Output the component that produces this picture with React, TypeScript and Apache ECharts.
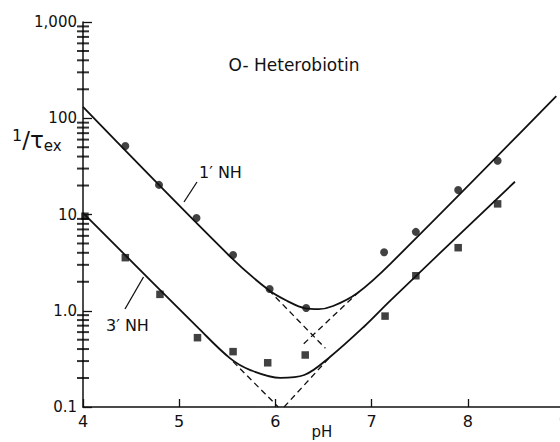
import React, { useEffect, useRef } from "react";
import * as echarts from "echarts";

// Axis ticks
const xTicks = [4, 5, 6, 7, 8, 9];
const yTickLabels = ["0.1", "1.0", "10", "100", "1,000"];
const minorMultipliers = [2, 3, 4, 5, 6, 7, 8, 9];
const minorDecades = [0.1, 1, 10, 100];

// Measured points: 1' NH (circles)
const pH1 = [4.44, 4.79, 5.18, 5.56, 5.94, 6.32, 7.13, 7.46, 7.9, 8.31];
const nh1 = [51.5, 20.3, 9.2, 3.8, 1.68, 1.07, 4.05, 6.6, 18, 36.2];
// Measured points: 3' NH (squares)
const pH3 = [4.02, 4.44, 4.8, 5.19, 5.56, 5.92, 6.31, 7.14, 7.46, 7.9, 8.31];
const nh3 = [9.6, 3.56, 1.48, 0.525, 0.376, 0.288, 0.347, 0.88, 2.31, 4.52, 12.9];

// Fitted curves
const fit1pH = [4.0, 5.53, 5.93, 6.125, 6.31, 6.45, 6.6, 6.85, 7.2, 8.92];
const fit1 = [131, 3.65, 1.64, 1.26, 1.06, 1.04, 1.12, 1.52, 3.11, 170];
const fit3pH = [4.0, 5.2, 5.53, 5.74, 6.05, 6.3, 6.57, 6.92, 7.2, 8.49];
const fit3 = [10.4, 0.66, 0.32, 0.242, 0.201, 0.215, 0.333, 0.682, 1.29, 21.9];

// Dashed asymptotes (pH, value) pairs
const asym1Left = [[5.93, 1.64], [6.52, 0.407]];
const asym1Right = [[6.87, 1.58], [6.28, 0.44]];
const asym3Left = [[5.56, 0.296], [6.03, 0.1]];
const asym3Right = [[6.09, 0.1], [6.57, 0.333]];

const INK = "#111";
const FONT = "DejaVu Sans";

export default function App() {
  const ref = useRef<HTMLDivElement>(null);

  useEffect(() => {
    document.body.style.margin = "0";
    const chart = echarts.init(ref.current!, null, { renderer: "svg" });

    const minorTicks: number[][] = [];
    minorDecades.forEach((d) =>
      minorMultipliers.forEach((m) => minorTicks.push([4, d * m]))
    );

    const zip = (xs: number[], ys: number[]) => xs.map((x, i) => [x, ys[i]]);

    const dashed = (data: number[][]) => ({
      type: "line",
      data,
      showSymbol: false,
      silent: true,
      lineStyle: { color: INK, width: 1.3, type: [6, 4] },
      z: 2,
    });

    const option: any = {
      animation: false,
      backgroundColor: "#fff",
      grid: {
        left: 83,
        right: -4,
        top: 22,
        bottom: 35,
        containLabel: false,
        outerBoundsMode: "none",
      },
      xAxis: {
        type: "value",
        min: 4,
        max: 9,
        interval: 1,
        axisLine: { onZero: false, lineStyle: { color: INK, width: 1.5 } },
        axisTick: { inside: true, length: 8, lineStyle: { color: INK, width: 1.3 } },
        axisLabel: {
          color: INK,
          fontFamily: FONT,
          fontSize: 16,
          margin: 6,
          hideOverlap: false,
          formatter: (v: number) => (xTicks.includes(v) ? String(v) : ""),
        },
        splitLine: { show: false },
      },
      yAxis: {
        type: "log",
        logBase: 10,
        min: 0.1,
        max: 1000,
        axisLine: { show: true, onZero: false, lineStyle: { color: INK, width: 1.5 } },
        axisTick: { show: true, inside: true, length: 9, lineStyle: { color: INK, width: 1.3 } },
        axisLabel: {
          color: INK,
          fontFamily: FONT,
          fontSize: 15,
          margin: 6,
          formatter: (v: number) => {
            const i = Math.round(Math.log10(v)) + 1;
            return yTickLabels[i] ?? "";
          },
        },
        splitLine: { show: false },
      },
      graphic: [
        {
          type: "text",
          x: 294,
          y: 65,
          style: { text: "O- Heterobiotin", font: `17px "${FONT}"`, fill: INK, align: "center", verticalAlign: "middle" },
        },
        {
          type: "text",
          x: 199,
          y: 172,
          style: { text: "1\u2032 NH", font: `16px "${FONT}"`, fill: INK, align: "left", verticalAlign: "middle" },
        },
        {
          type: "text",
          x: 106,
          y: 325,
          style: { text: "3\u2032 NH", font: `16px "${FONT}"`, fill: INK, align: "left", verticalAlign: "middle" },
        },
        {
          type: "line",
          shape: { x1: 197, y1: 182, x2: 184, y2: 202 },
          style: { stroke: INK, lineWidth: 1.3 },
        },
        {
          type: "line",
          shape: { x1: 143.5, y1: 277, x2: 125, y2: 309 },
          style: { stroke: INK, lineWidth: 1.3 },
        },
        {
          type: "text",
          x: 322,
          y: 432,
          style: { text: "pH", font: `15px "${FONT}"`, fill: INK, align: "center", verticalAlign: "middle" },
        },
        {
          type: "text",
          x: 12,
          y: 127,
          style: {
            text: "{one|1}{sl|/\u03c4}{ex|ex}",
            fill: INK,
            align: "left",
            verticalAlign: "top",
            rich: {
              one: { fontFamily: FONT, fontSize: 16, lineHeight: 18, verticalAlign: "top", fill: INK },
              sl: { fontFamily: FONT, fontSize: 23, lineHeight: 26, verticalAlign: "middle", fill: INK },
              ex: { fontFamily: FONT, fontSize: 15, lineHeight: 16, verticalAlign: "bottom", fill: INK, padding: [18, 0, 0, 0] },
            },
          },
        },
      ],
      series: [
        {
          type: "scatter",
          data: minorTicks,
          symbol: "rect",
          symbolSize: [12, 2],
          clip: false,
          silent: true,
          itemStyle: { color: "#000" },
          z: 5,
        },
        {
          type: "line",
          data: zip(fit1pH, fit1),
          smooth: 0.35,
          showSymbol: false,
          silent: true,
          lineStyle: { color: INK, width: 1.8 },
          z: 3,
        },
        {
          type: "line",
          data: zip(fit3pH, fit3),
          smooth: 0.35,
          showSymbol: false,
          silent: true,
          lineStyle: { color: INK, width: 1.8 },
          z: 3,
        },
        dashed(asym1Left),
        dashed(asym1Right),
        dashed(asym3Left),
        dashed(asym3Right),
        {
          type: "scatter",
          data: zip(pH1, nh1),
          symbol: "circle",
          symbolSize: 8,
          itemStyle: { color: INK },
          z: 4,
        },
        {
          type: "scatter",
          data: zip(pH3, nh3),
          symbol: "rect",
          symbolSize: 7.5,
          itemStyle: { color: INK },
          z: 4,
        },
      ],
    };

    chart.setOption(option);
    return () => chart.dispose();
  }, []);

  return <div ref={ref} style={{ width: 560, height: 442 }} />;
}
